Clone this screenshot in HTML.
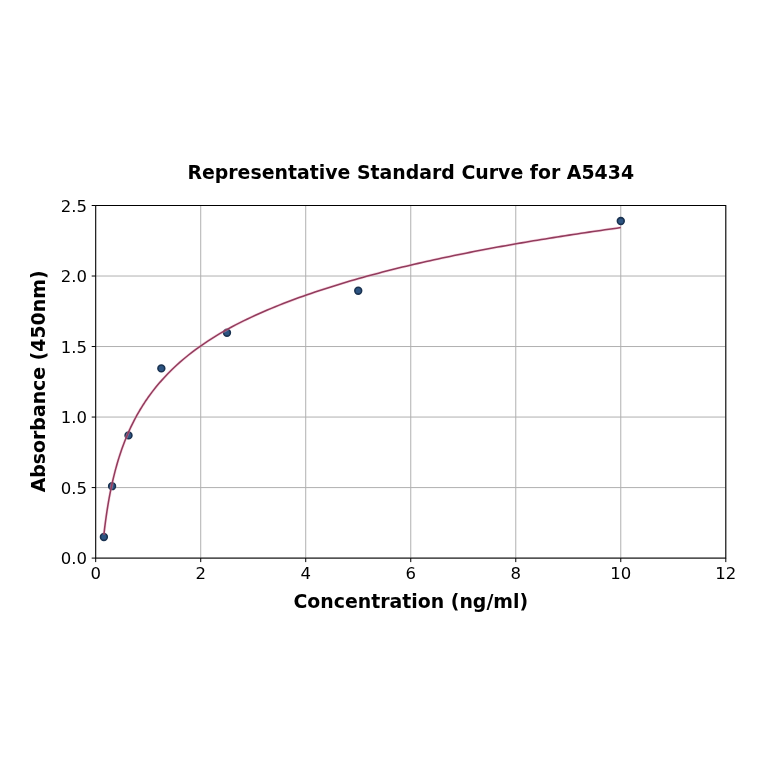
<!DOCTYPE html>
<html><head><meta charset="utf-8"><title>Representative Standard Curve for A5434</title>
<style>
html,body{margin:0;padding:0;background:#fff;}
svg{display:block;}
text{font-family:"DejaVu Sans","Liberation Sans",sans-serif;fill:#000;}
.tk{font-size:16.5px;}
.b{font-weight:bold;}
</style></head><body>
<svg width="764" height="764" viewBox="0 0 764 764">
<rect width="764" height="764" fill="#fff"/>
<path d="M95.70 205.5V558.1M200.72 205.5V558.1M305.73 205.5V558.1M410.75 205.5V558.1M515.77 205.5V558.1M620.78 205.5V558.1M725.80 205.5V558.1M95.7 558.10H725.8M95.7 487.58H725.8M95.7 417.06H725.8M95.7 346.54H725.8M95.7 276.02H725.8M95.7 205.50H725.8" stroke="#b0b0b0" stroke-width="1.0" fill="none"/>
<circle cx="103.89" cy="536.94" r="3.4" fill="#2d5482" stroke="#1a3250" stroke-width="1.6"/>
<circle cx="112.08" cy="486.17" r="3.4" fill="#2d5482" stroke="#1a3250" stroke-width="1.6"/>
<circle cx="128.52" cy="435.40" r="3.4" fill="#2d5482" stroke="#1a3250" stroke-width="1.6"/>
<circle cx="161.34" cy="368.40" r="3.4" fill="#2d5482" stroke="#1a3250" stroke-width="1.6"/>
<circle cx="226.97" cy="332.72" r="3.4" fill="#2d5482" stroke="#1a3250" stroke-width="1.6"/>
<circle cx="358.24" cy="290.69" r="3.4" fill="#2d5482" stroke="#1a3250" stroke-width="1.6"/>
<circle cx="620.78" cy="221.01" r="3.4" fill="#2d5482" stroke="#1a3250" stroke-width="1.6"/>
<polyline points="103.89,534.60 104.64,528.17 105.39,522.26 106.14,516.78 106.90,511.68 107.65,506.91 108.40,502.42 109.15,498.19 109.90,494.18 110.65,490.38 111.40,486.77 112.15,483.32 112.90,480.02 113.66,476.86 114.41,473.83 115.16,470.92 115.91,468.12 116.66,465.42 117.41,462.81 118.16,460.30 118.91,457.86 119.67,455.50 120.42,453.22 121.17,451.00 121.92,448.84 122.67,446.75 123.42,444.71 124.17,442.73 124.92,440.80 125.67,438.92 126.43,437.08 127.18,435.29 127.93,433.54 128.68,431.83 129.43,430.16 130.18,428.52 130.93,426.92 131.68,425.36 132.43,423.82 133.19,422.32 133.94,420.85 134.69,419.40 135.44,417.99 136.19,416.60 136.94,415.23 137.69,413.89 138.44,412.57 139.19,411.28 139.95,410.01 140.70,408.76 141.45,407.53 142.20,406.32 142.95,405.13 143.70,403.96 144.45,402.81 145.20,401.67 145.95,400.55 146.71,399.45 147.46,398.36 148.21,397.29 152.18,391.88 156.15,386.83 160.12,382.11 164.09,377.66 168.06,373.47 172.04,369.51 176.01,365.75 179.98,362.17 183.95,358.76 187.92,355.50 191.89,352.38 195.86,349.39 199.83,346.53 203.81,343.77 207.78,341.11 211.75,338.55 215.72,336.09 219.69,333.70 223.66,331.40 227.63,329.16 231.60,327.00 235.58,324.90 239.55,322.86 243.52,320.88 247.49,318.95 251.46,317.08 255.43,315.25 259.40,313.46 263.37,311.72 267.34,310.02 271.32,308.35 275.29,306.72 279.26,305.12 283.23,303.56 287.20,302.03 291.17,300.53 295.14,299.05 299.11,297.60 303.09,296.18 307.06,294.79 311.03,293.41 315.00,292.06 318.97,290.74 322.94,289.43 326.91,288.15 330.88,286.89 334.86,285.64 338.83,284.42 342.80,283.21 346.77,282.03 350.74,280.86 354.71,279.71 358.68,278.57 362.65,277.46 366.63,276.36 370.60,275.27 374.57,274.20 378.54,273.15 382.51,272.11 386.48,271.08 390.45,270.07 394.42,269.08 398.40,268.09 402.37,267.12 406.34,266.16 410.31,265.22 414.28,264.29 418.25,263.37 422.22,262.46 426.19,261.56 430.16,260.67 434.14,259.80 438.11,258.93 442.08,258.08 446.05,257.24 450.02,256.40 453.99,255.58 457.96,254.77 461.93,253.96 465.91,253.16 469.88,252.38 473.85,251.60 477.82,250.83 481.79,250.07 485.76,249.32 489.73,248.57 493.70,247.83 497.68,247.11 501.65,246.38 505.62,245.67 509.59,244.96 513.56,244.26 517.53,243.57 521.50,242.88 525.47,242.20 529.45,241.53 533.42,240.86 537.39,240.20 541.36,239.55 545.33,238.90 549.30,238.26 553.27,237.62 557.24,236.99 561.22,236.37 565.19,235.75 569.16,235.13 573.13,234.52 577.10,233.92 581.07,233.32 585.04,232.73 589.01,232.14 592.98,231.56 596.96,230.98 600.93,230.40 604.90,229.83 608.87,229.27 612.84,228.71 616.81,228.15 620.78,227.60" fill="none" stroke="#f2a9c2" stroke-opacity="0.4" stroke-width="2.9" stroke-linejoin="round"/>
<polyline points="103.89,534.60 104.64,528.17 105.39,522.26 106.14,516.78 106.90,511.68 107.65,506.91 108.40,502.42 109.15,498.19 109.90,494.18 110.65,490.38 111.40,486.77 112.15,483.32 112.90,480.02 113.66,476.86 114.41,473.83 115.16,470.92 115.91,468.12 116.66,465.42 117.41,462.81 118.16,460.30 118.91,457.86 119.67,455.50 120.42,453.22 121.17,451.00 121.92,448.84 122.67,446.75 123.42,444.71 124.17,442.73 124.92,440.80 125.67,438.92 126.43,437.08 127.18,435.29 127.93,433.54 128.68,431.83 129.43,430.16 130.18,428.52 130.93,426.92 131.68,425.36 132.43,423.82 133.19,422.32 133.94,420.85 134.69,419.40 135.44,417.99 136.19,416.60 136.94,415.23 137.69,413.89 138.44,412.57 139.19,411.28 139.95,410.01 140.70,408.76 141.45,407.53 142.20,406.32 142.95,405.13 143.70,403.96 144.45,402.81 145.20,401.67 145.95,400.55 146.71,399.45 147.46,398.36 148.21,397.29 152.18,391.88 156.15,386.83 160.12,382.11 164.09,377.66 168.06,373.47 172.04,369.51 176.01,365.75 179.98,362.17 183.95,358.76 187.92,355.50 191.89,352.38 195.86,349.39 199.83,346.53 203.81,343.77 207.78,341.11 211.75,338.55 215.72,336.09 219.69,333.70 223.66,331.40 227.63,329.16 231.60,327.00 235.58,324.90 239.55,322.86 243.52,320.88 247.49,318.95 251.46,317.08 255.43,315.25 259.40,313.46 263.37,311.72 267.34,310.02 271.32,308.35 275.29,306.72 279.26,305.12 283.23,303.56 287.20,302.03 291.17,300.53 295.14,299.05 299.11,297.60 303.09,296.18 307.06,294.79 311.03,293.41 315.00,292.06 318.97,290.74 322.94,289.43 326.91,288.15 330.88,286.89 334.86,285.64 338.83,284.42 342.80,283.21 346.77,282.03 350.74,280.86 354.71,279.71 358.68,278.57 362.65,277.46 366.63,276.36 370.60,275.27 374.57,274.20 378.54,273.15 382.51,272.11 386.48,271.08 390.45,270.07 394.42,269.08 398.40,268.09 402.37,267.12 406.34,266.16 410.31,265.22 414.28,264.29 418.25,263.37 422.22,262.46 426.19,261.56 430.16,260.67 434.14,259.80 438.11,258.93 442.08,258.08 446.05,257.24 450.02,256.40 453.99,255.58 457.96,254.77 461.93,253.96 465.91,253.16 469.88,252.38 473.85,251.60 477.82,250.83 481.79,250.07 485.76,249.32 489.73,248.57 493.70,247.83 497.68,247.11 501.65,246.38 505.62,245.67 509.59,244.96 513.56,244.26 517.53,243.57 521.50,242.88 525.47,242.20 529.45,241.53 533.42,240.86 537.39,240.20 541.36,239.55 545.33,238.90 549.30,238.26 553.27,237.62 557.24,236.99 561.22,236.37 565.19,235.75 569.16,235.13 573.13,234.52 577.10,233.92 581.07,233.32 585.04,232.73 589.01,232.14 592.98,231.56 596.96,230.98 600.93,230.40 604.90,229.83 608.87,229.27 612.84,228.71 616.81,228.15 620.78,227.60" fill="none" stroke="#923c5d" stroke-width="1.55" stroke-linejoin="round"/>
<path d="M95.70 558.1v4.0M200.72 558.1v4.0M305.73 558.1v4.0M410.75 558.1v4.0M515.77 558.1v4.0M620.78 558.1v4.0M725.80 558.1v4.0M95.7 558.10h-4.0M95.7 487.58h-4.0M95.7 417.06h-4.0M95.7 346.54h-4.0M95.7 276.02h-4.0M95.7 205.50h-4.0" stroke="#000" stroke-width="1.0" fill="none"/>
<rect x="95.7" y="205.5" width="630.10" height="352.60" fill="none" stroke="#000" stroke-width="1.0"/>
<text class="tk" x="95.70" y="578.7" text-anchor="middle">0</text>
<text class="tk" x="200.72" y="578.7" text-anchor="middle">2</text>
<text class="tk" x="305.73" y="578.7" text-anchor="middle">4</text>
<text class="tk" x="410.75" y="578.7" text-anchor="middle">6</text>
<text class="tk" x="515.77" y="578.7" text-anchor="middle">8</text>
<text class="tk" x="620.78" y="578.7" text-anchor="middle">10</text>
<text class="tk" x="725.80" y="578.7" text-anchor="middle">12</text>
<text class="tk" x="86.9" y="564.35" text-anchor="end">0.0</text>
<text class="tk" x="86.9" y="493.83" text-anchor="end">0.5</text>
<text class="tk" x="86.9" y="423.31" text-anchor="end">1.0</text>
<text class="tk" x="86.9" y="352.79" text-anchor="end">1.5</text>
<text class="tk" x="86.9" y="282.27" text-anchor="end">2.0</text>
<text class="tk" x="86.9" y="211.75" text-anchor="end">2.5</text>
<text class="b" x="410.75" y="179.2" text-anchor="middle" font-size="18.9">Representative Standard Curve for A5434</text>
<text class="b" x="410.75" y="608.4" text-anchor="middle" font-size="18.9">Concentration (ng/ml)</text>
<text class="b" transform="translate(44.7 381.40) rotate(-90)" text-anchor="middle" font-size="18.9">Absorbance (450nm)</text>
</svg></body></html>
